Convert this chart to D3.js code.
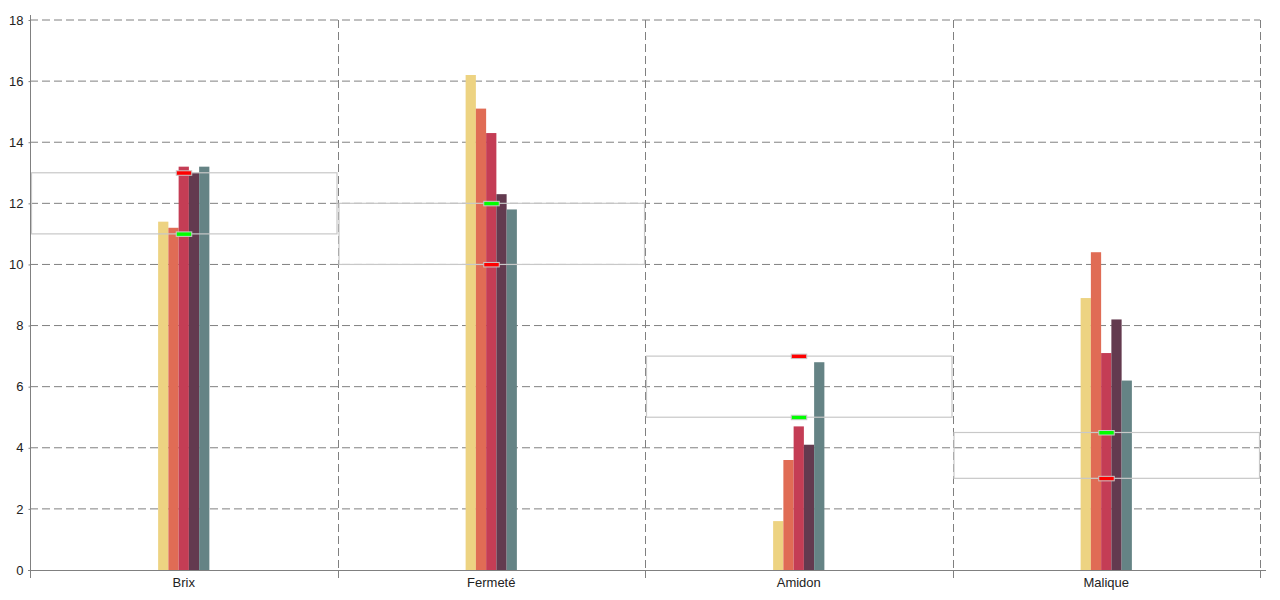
<!DOCTYPE html>
<html><head><meta charset="utf-8">
<script src="https://cdn.jsdelivr.net/npm/d3@7"></script>
<style>body{margin:0;background:#fff;}svg{display:block;font-family:"Liberation Sans",Arial,sans-serif;}</style>
</head><body><svg id="c" width="1280" height="600"></svg>
<script>
const categories = ["Brix", "Fermeté", "Amidon", "Malique"];
const series1 = [11.4, 16.2, 1.6, 8.9];
const series2 = [11.2, 15.1, 3.6, 10.4];
const series3 = [13.2, 14.3, 4.7, 7.1];
const series4 = [13.0, 12.3, 4.1, 8.2];
const series5 = [13.2, 11.8, 6.8, 6.2];
const rangeLow = [11, 10, 5, 3];
const rangeHigh = [13, 12, 7, 4.5];
const greenMark = [11, 12, 5, 4.5];
const redMark = [13, 10, 7, 3];
const yTicks = [0, 2, 4, 6, 8, 10, 12, 14, 16, 18];
const colors = ["#edd382", "#e06c55", "#c43d55", "#633a4f", "#658385"];

const allSeries = [series1, series2, series3, series4, series5];
const svg = d3.select("#c");
const L = 30, R = 1260, T = 20, B = 570;
const x = d3.scaleBand().domain(categories).range([L, R]);
const y = d3.scaleLinear().domain([0, 18]).range([B, T]);
const inner = d3.scaleBand().domain(d3.range(5)).range([0, x.bandwidth() / 6]);
const grey = "#808080";

// horizontal grid
svg.append("g").selectAll("line").data(yTicks.filter(d => d > 0)).join("line")
  .attr("x1", L).attr("x2", R).attr("y1", d => y(d)).attr("y2", d => y(d))
  .attr("stroke", grey).attr("stroke-dasharray", "8,4").attr("stroke-width", 1);
// vertical grid
const bounds = categories.map(c => x(c) + x.bandwidth());
svg.append("g").selectAll("line").data(bounds).join("line")
  .attr("x1", d => Math.round(d) + 0.5).attr("x2", d => Math.round(d) + 0.5).attr("y1", T).attr("y2", B)
  .attr("stroke", grey).attr("stroke-dasharray", "8,4").attr("stroke-width", 1);

// bars
const gw = x.bandwidth() / 6;
allSeries.forEach((s, si) => {
  svg.append("g").selectAll("rect").data(categories).join("rect")
    .attr("x", c => x(c) + x.bandwidth() / 2 - gw / 2 + inner(si))
    .attr("width", inner.bandwidth())
    .attr("y", (c, i) => y(s[i])).attr("height", (c, i) => y(0) - y(s[i]))
    .attr("fill", colors[si]);
});

// range boxes (drawn over bars)
svg.append("g").selectAll("rect").data(categories).join("rect")
  .attr("x", c => x(c) + 1.5).attr("width", x.bandwidth() - 2)
  .attr("y", (c, i) => y(rangeHigh[i])).attr("height", (c, i) => y(rangeLow[i]) - y(rangeHigh[i]))
  .attr("fill", "none").attr("stroke", "#c8c8c8").attr("stroke-width", 1.2);

// markers
function markers(vals, col) {
  svg.append("g").selectAll("rect").data(categories).join("rect")
    .attr("x", c => x(c) + x.bandwidth() / 2 - 7.5).attr("width", 15.5)
    .attr("y", (c, i) => y(vals[i]) - 2).attr("height", 4.5)
    .attr("fill", col).attr("stroke", "#c8c8c8").attr("stroke-width", 1);
}
markers(greenMark, "#00ff00");
markers(redMark, "#ff0000");

// y axis
const ya = svg.append("g").attr("transform", `translate(${L + 0.5},0)`)
  .call(d3.axisLeft(y).tickValues(yTicks).tickSize(2).tickPadding(5));
ya.select(".domain").attr("stroke", grey).attr("d", `M0,15V578`);
ya.selectAll(".tick line").attr("stroke", grey);
ya.selectAll("text").attr("font-size", 13).attr("fill", "#222").attr("font-family", "Liberation Sans, Arial, sans-serif");

// x axis
const xa = svg.append("g").attr("transform", `translate(0,${B + 0.5})`)
  .call(d3.axisBottom(x).tickSize(0).tickPadding(7));
xa.select(".domain").attr("stroke", grey).attr("d", `M28,0H1266`);
xa.selectAll("text").attr("font-size", 13).attr("fill", "#222").attr("font-family", "Liberation Sans, Arial, sans-serif");
svg.append("g").selectAll("line").data([L].concat(bounds)).join("line")
  .attr("x1", d => Math.round(d) + 0.5).attr("x2", d => Math.round(d) + 0.5).attr("y1", B).attr("y2", B + 8)
  .attr("stroke", grey);
</script></body></html>
